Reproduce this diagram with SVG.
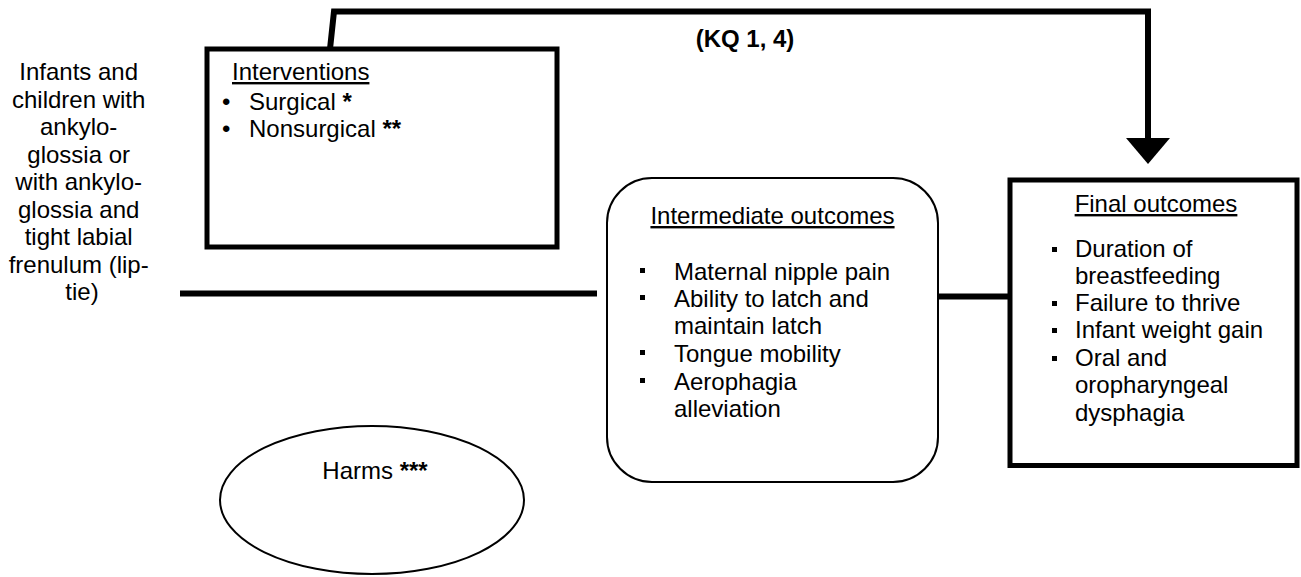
<svg xmlns="http://www.w3.org/2000/svg" width="1301" height="577" viewBox="0 0 1301 577">
<style>
text{font-family:"Liberation Sans",Arial,sans-serif;font-size:24px;fill:#000}
.b{font-weight:bold}
.u{text-decoration:underline}
.thick{fill:none;stroke:#000;stroke-width:5}
.conn{fill:none;stroke:#000;stroke-width:6}
.thin{fill:#fff;stroke:#000;stroke-width:2}
.sq{fill:#000}
</style>
<rect width="1301" height="577" fill="#fff"/>
<g id="population">
<text text-anchor="middle">
<tspan x="82" y="80">Infants and</tspan>
<tspan x="82" y="107.5">children with</tspan>
<tspan x="82" y="135">ankylo-</tspan>
<tspan x="82" y="162.5">glossia or</tspan>
<tspan x="82" y="190">with ankylo-</tspan>
<tspan x="82" y="217.5">glossia and</tspan>
<tspan x="82" y="245">tight labial</tspan>
<tspan x="82" y="272.5">frenulum (lip-</tspan>
<tspan x="82" y="300">tie)</tspan>
</text>
</g>
<g id="connectors">
<polyline class="conn" points="330,49 334,11.5 1148,11.5 1148,140"/>
<polygon points="1126,138 1170,138 1148,164" fill="#000"/>
<line class="conn" x1="180" y1="293.5" x2="597" y2="293.5"/>
<line class="conn" x1="938" y1="296.5" x2="1008" y2="296.5"/>
<text class="b" x="745" y="47" text-anchor="middle">(KQ 1, 4)</text>
</g>
<g id="interventions">
<rect class="thick" x="207" y="49" width="350" height="198" fill="#fff"/>
<text class="u" x="232" y="80">Interventions</text>
<text x="222" y="110">•</text><text x="249" y="110">Surgical <tspan class="b">*</tspan></text>
<text x="222" y="137">•</text><text x="249" y="137">Nonsurgical <tspan class="b">**</tspan></text>
</g>
<g id="intermediate">
<rect class="thin" x="607" y="178" width="331" height="304" rx="45" ry="45"/>
<text class="u" x="772.5" y="224" text-anchor="middle">Intermediate outcomes</text>
<rect class="sq" x="640" y="268" width="5" height="5"/>
<text x="674" y="280">Maternal nipple pain</text>
<rect class="sq" x="640" y="295" width="5" height="5"/>
<text x="674" y="307">Ability to latch and</text>
<text x="674" y="334">maintain latch</text>
<rect class="sq" x="640" y="350" width="5" height="5"/>
<text x="674" y="362">Tongue mobility</text>
<rect class="sq" x="640" y="378" width="5" height="5"/>
<text x="674" y="390">Aerophagia</text>
<text x="674" y="417">alleviation</text>
</g>
<g id="final">
<rect class="thick" x="1010" y="180" width="287" height="285.5" fill="#fff"/>
<text class="u" x="1156" y="212" text-anchor="middle">Final outcomes</text>
<rect class="sq" x="1052" y="247" width="5" height="5"/>
<text x="1075" y="257">Duration of</text>
<text x="1075" y="284">breastfeeding</text>
<rect class="sq" x="1052" y="301" width="5" height="5"/>
<text x="1075" y="311">Failure to thrive</text>
<rect class="sq" x="1052" y="328" width="5" height="5"/>
<text x="1075" y="338">Infant weight gain</text>
<rect class="sq" x="1052" y="356" width="5" height="5"/>
<text x="1075" y="366">Oral and</text>
<text x="1075" y="393">oropharyngeal</text>
<text x="1075" y="421">dysphagia</text>
</g>
<g id="harms">
<ellipse class="thin" cx="372" cy="500" rx="152" ry="74"/>
<text x="375" y="479" text-anchor="middle">Harms <tspan class="b">***</tspan></text>
</g>
</svg>
